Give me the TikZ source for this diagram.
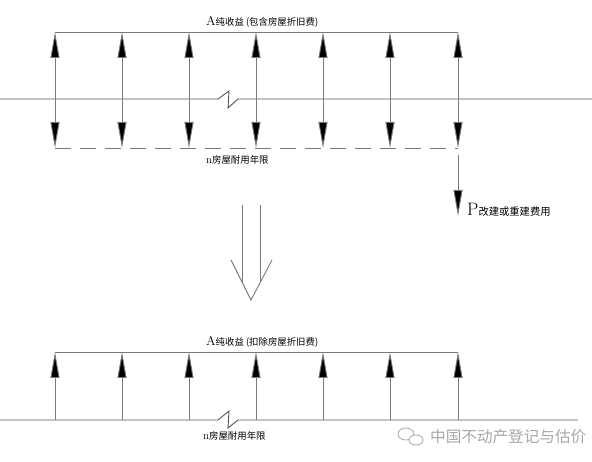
\documentclass[tikz,border=0pt]{standalone}
\usepackage{fontspec}
\newfontfamily\cjk{Noto Sans CJK SC}
\usetikzlibrary{arrows.meta}
\definecolor{linegray}{HTML}{7A7A7A}
\definecolor{axisgray}{HTML}{555555}
\definecolor{wmgray}{HTML}{A8A8A8}
\tikzset{
  vline/.style={draw=linegray, line width=0.9pt},
  axis/.style={draw=axisgray, line width=0.9pt},
  tip/.style={-{Triangle[width=9pt,length=26pt,fill=black]}},
  twotip/.style={{Triangle[width=9pt,length=26pt,fill=black]}-{Triangle[width=9pt,length=26pt,fill=black]}},
  lbl/.style={inner sep=0pt, anchor=base west, text=black},
  dashline/.style={draw=linegray, line width=0.9pt, dash pattern=on 16pt off 9pt},
}
\begin{document}
\begin{tikzpicture}[x=1pt,y=-1pt]
\useasboundingbox (0,0) rectangle (592,462);
\fill[white] (0,0) rectangle (592,462);

% ---------- top diagram ----------
\coordinate (axL) at (0,99);
\coordinate (axR) at (592,99);
\coordinate (bkA) at (218,99);
\coordinate (bkB) at (229,91);
\coordinate (bkC) at (228,108);
\coordinate (bkD) at (238,99);
\draw[axis] (axL) -- (bkA) -- (bkB) -- (bkC) -- (bkD) -- (axR);

\coordinate (topL) at (55,32);
\coordinate (topR) at (458,32);
\draw[vline] (topL) -- (topR);
\coordinate (dashL) at (55,148);
\coordinate (dashR) at (458,148);
\draw[dashline] (dashL) -- (dashR);

\foreach \i/\x in {1/55,2/122,3/189,4/256,5/323,6/390,7/458}{
  \coordinate (u\i) at (\x,32);
  \coordinate (d\i) at (\x,148);
  \draw[vline,twotip] (d\i) -- (u\i);
}

\node[lbl] (labA) at (206,26) {\fontsize{13}{13}\selectfont A\cjk\fontsize{9.4}{10}\selectfont 纯收益 (包含房屋折旧费)};
\node[lbl] (labN) at (206,164) {\fontsize{11}{11}\selectfont n\cjk\fontsize{9.4}{10}\selectfont 房屋耐用年限};

\coordinate (pS) at (458,155);
\coordinate (pE) at (458,216);
\draw[vline,tip] (pS) -- (pE);
\node[lbl] (labP) at (467,216) {\fontsize{18}{18}\selectfont P\cjk\fontsize{10.3}{11}\selectfont 改建或重建费用};

% ---------- hollow arrow ----------
\coordinate (hL1) at (242,205);
\coordinate (hL2) at (242,282);
\coordinate (hR1) at (260,205);
\coordinate (hR2) at (260,282);
\coordinate (hA) at (231,260);
\coordinate (hT) at (251,300);
\coordinate (hB) at (272,260);
\draw[vline] (hL1) -- (hL2);
\draw[vline] (hR1) -- (hR2);
\draw[vline] (hA) -- (hT) -- (hB);

% ---------- bottom diagram ----------
\coordinate (bxL) at (0,420);
\coordinate (bxR) at (578,420);
\coordinate (bbA) at (218,420);
\coordinate (bbB) at (229,411);
\coordinate (bbC) at (228,428);
\coordinate (bbD) at (238,420);
\draw[axis] (bxL) -- (bbA) -- (bbB) -- (bbC) -- (bbD) -- (bxR);

\coordinate (btL) at (55,352);
\coordinate (btR) at (458,352);
\draw[vline] (btL) -- (btR);
\foreach \i/\x in {1/55,2/122,3/189,4/256,5/323,6/390,7/458}{
  \coordinate (bu\i) at (\x,352);
  \coordinate (bd\i) at (\x,420);
  \draw[vline,tip] (bd\i) -- (bu\i);
}
\node[lbl] (labA2) at (206,346) {\fontsize{13}{13}\selectfont A\cjk\fontsize{9.4}{10}\selectfont 纯收益 (扣除房屋折旧费)};
\node[lbl] (labN2) at (203,439) {\fontsize{11}{11}\selectfont n\cjk\fontsize{9.4}{10}\selectfont 房屋耐用年限};

% ---------- watermark ----------
\draw[wmgray, line width=0.8pt, fill=white] (406,434) ellipse (8pt and 6pt);
\draw[wmgray, line width=0.8pt, fill=white] (416,440) ellipse (7pt and 5pt);
\node[lbl, text=wmgray] (wm) at (430,442) {\cjk\fontsize{15.6}{16}\selectfont 中国不动产登记与估价};
\end{tikzpicture}
\end{document}
